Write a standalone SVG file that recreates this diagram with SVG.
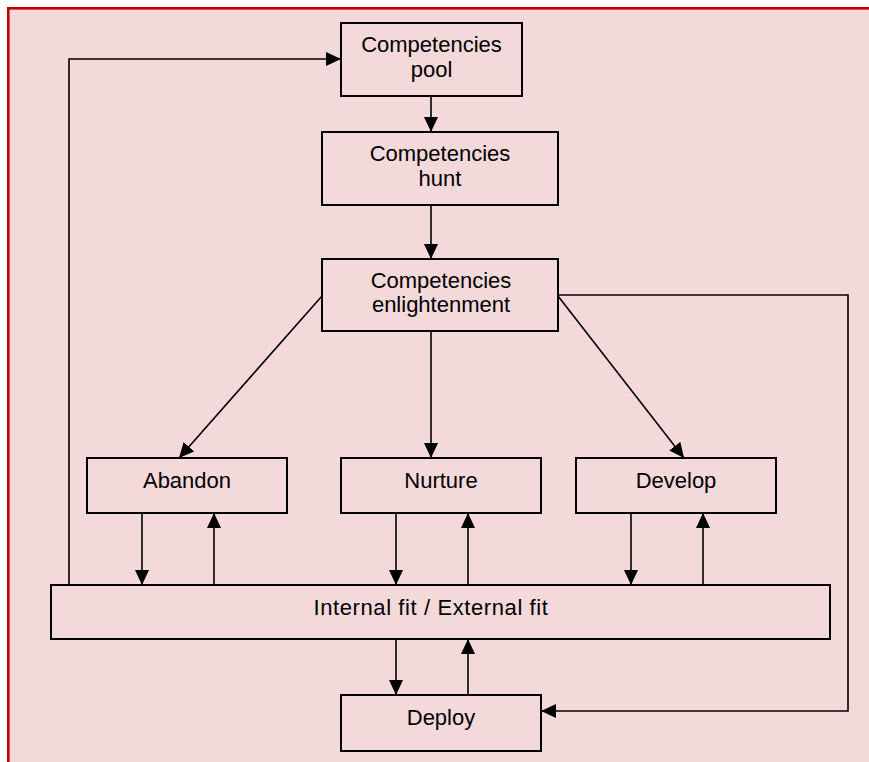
<svg xmlns="http://www.w3.org/2000/svg" width="869" height="762" viewBox="0 0 869 762">
<style>
.box{fill:none;stroke:#000;stroke-width:2}
.lbl{font-family:"Liberation Sans",Arial,sans-serif;font-size:22px;fill:#000;text-anchor:middle}
.con{fill:none;stroke:#000;stroke-width:1.6}
.arr{marker-end:url(#ah)}
</style>
<defs>
<marker id="ah" viewBox="0 0 15 14" refX="15" refY="7" markerWidth="15" markerHeight="14" markerUnits="userSpaceOnUse" orient="auto">
<path d="M0,0 L15,7 L0,14 z" fill="#000"/>
</marker>
</defs>
<rect x="0" y="0" width="869" height="762" fill="#fff"/>
<rect x="8.3" y="8.3" width="900" height="800" fill="#F3D9DA" stroke="#C00000" stroke-width="2.6"/>
<g id="connectors">
<polyline class="con arr" points="69,585 69,59 341,59"/>
<line class="con arr" x1="431" y1="96" x2="431" y2="132"/>
<line class="con arr" x1="431" y1="205" x2="431" y2="259"/>
<line class="con arr" x1="322" y1="296" x2="179" y2="458"/>
<line class="con arr" x1="431" y1="331" x2="431" y2="458"/>
<line class="con arr" x1="558" y1="296" x2="684" y2="458"/>
<polyline class="con arr" points="558,295 848,295 848,711 541,711"/>
<line class="con arr" x1="142" y1="513" x2="142" y2="585"/>
<line class="con arr" x1="214" y1="585" x2="214" y2="513"/>
<line class="con arr" x1="396" y1="513" x2="396" y2="585"/>
<line class="con arr" x1="468" y1="585" x2="468" y2="513"/>
<line class="con arr" x1="631" y1="513" x2="631" y2="585"/>
<line class="con arr" x1="703" y1="585" x2="703" y2="513"/>
<line class="con arr" x1="396" y1="639" x2="396" y2="695"/>
<line class="con arr" x1="468" y1="695" x2="468" y2="639"/>
</g>
<g id="pool"><rect class="box" x="341" y="23" width="181" height="73"/><text class="lbl" x="431.5" y="52">Competencies</text><text class="lbl" x="431.5" y="77">pool</text></g>
<g id="hunt"><rect class="box" x="322" y="132" width="236" height="73"/><text class="lbl" x="440" y="161">Competencies</text><text class="lbl" x="440" y="186">hunt</text></g>
<g id="enlightenment"><rect class="box" x="322" y="259" width="236" height="72"/><text class="lbl" x="441" y="288">Competencies</text><text class="lbl" x="441" y="312">enlightenment</text></g>
<g id="abandon"><rect class="box" x="87" y="458" width="200" height="55"/><text class="lbl" x="187" y="488">Abandon</text></g>
<g id="nurture"><rect class="box" x="341" y="458" width="200" height="55"/><text class="lbl" x="441" y="488">Nurture</text></g>
<g id="develop"><rect class="box" x="576" y="458" width="200" height="55"/><text class="lbl" x="676" y="488">Develop</text></g>
<g id="fit"><rect class="box" x="51" y="585" width="779" height="54"/><text class="lbl" x="431" y="615" letter-spacing="0.6">Internal fit / External fit</text></g>
<g id="deploy"><rect class="box" x="341" y="695" width="200" height="56"/><text class="lbl" x="441" y="725">Deploy</text></g>
</svg>
